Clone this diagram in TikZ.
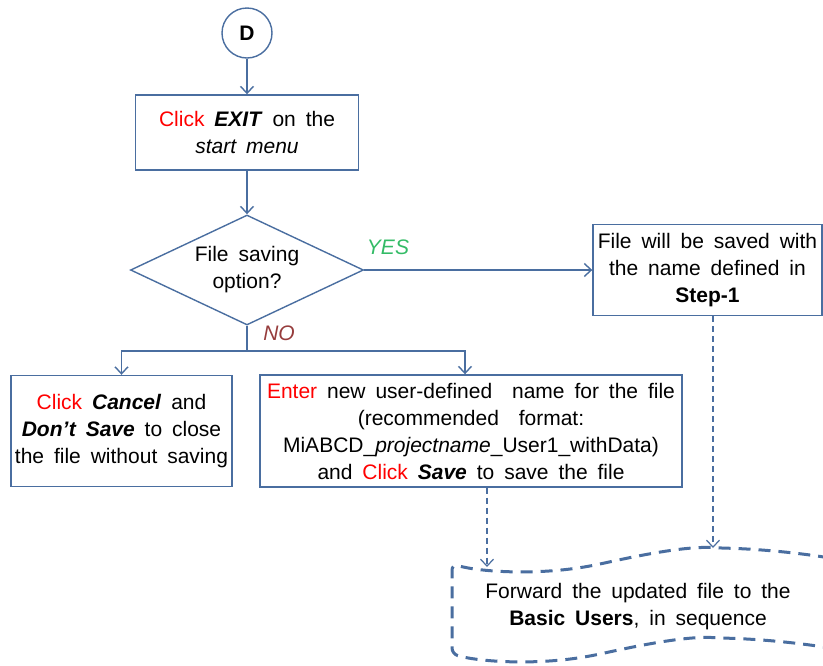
\documentclass[tikz,border=0pt]{standalone}
\usepackage{fontspec}
\setmainfont{Liberation Sans}[WordSpace=1.7]
\usetikzlibrary{shapes.geometric,arrows.meta}
\definecolor{edge}{RGB}{74,110,160}
\definecolor{clickred}{RGB}{255,0,0}
\definecolor{yesgreen}{RGB}{51,187,102}
\definecolor{nobrown}{RGB}{150,60,60}
\newcommand{\clk}[1]{\textcolor{clickred}{#1}}

\begin{document}
\begin{tikzpicture}[x=1pt,y=-1pt,
  every node/.style={font=\fontsize{21}{27}\selectfont, align=center},
  box/.style={draw=edge, line width=1.4pt, rectangle, inner sep=0pt},
  arr/.style={draw=edge, line width=1.4pt, -{Straight Barb[length=7pt,width=13pt]}},
  link/.style={draw=edge, line width=1.4pt},
  darr/.style={draw=edge, line width=1.2pt, dash pattern=on 6pt off 4pt,
               -{Straight Barb[length=7pt,width=13pt]}},
  tapeline/.style={draw=edge, line width=3pt, dash pattern=on 12pt off 8pt,
                   rounded corners=6pt}]

  \clip (0,0) rectangle (823,665);

  % start connector
  \node[circle, draw=edge, line width=1.4pt, minimum size=50pt, inner sep=0pt]
    (D) at (247,33) {\textbf{D}};

  % process boxes
  \node[box, minimum width=223pt, minimum height=75pt] (exit) at (247,132.5)
    {\clk{Click} \textbf{\textit{EXIT}} on the\\\textit{start menu}};

  \node[diamond, draw=edge, line width=1.4pt, minimum width=233pt,
        minimum height=110pt, aspect=2.1, inner sep=0pt] (dec) at (247,270)
    {File saving\\option?};

  \node[box, minimum width=229pt, minimum height=91pt] (saved) at (707.5,270)
    {File will be saved with\\the name defined in\\\textbf{Step-1}};

  \node[box, minimum width=221pt, minimum height=111pt] (cancel) at (121.5,431)
    {\clk{Click} \textbf{\textit{Cancel}} and\\\textbf{\textit{Don’t Save}} to close\\the file without saving};

  \node[box, minimum width=422pt, minimum height=112pt] (enter) at (471,431)
    {\clk{Enter} new user-defined\ \ name for the file\\(recommended\ \ format:\\MiABCD\_\textit{projectname}\_User1\_withData)\\and \clk{Click} \textbf{\textit{Save}} to save the file};

  % branch labels
  \node[text=yesgreen] (yes) at (388,247) {\textit{YES}};
  \node[text=nobrown] (no) at (279,333) {\textit{NO}};

  % wavy tape outline and its text
  \node (fwd) at (638,607) {Forward the updated file to the\\\textbf{Basic Users}, in sequence};
  \draw[tapeline] (830,558) .. controls (800,553) and (760,549) .. (720,548)
    .. controls (690,546) and (650,553) .. (600,564)
    .. controls (540,576) and (480,572) .. (452,564)
    -- (452,654)
    .. controls (480,662) and (540,666) .. (600,654)
    .. controls (650,643) and (690,636) .. (720,638)
    .. controls (760,639) and (800,643) .. (830,648);
  \coordinate (t1) at (487,567);
  \coordinate (t2) at (713,548);
  \coordinate (fork) at (247,351);

  % connectors
  \draw[arr] (D) -- (exit);
  \draw[arr] (exit) -- (dec);
  \draw[arr] (dec.east) -- (saved.west);
  \draw[link] (dec.south) -- (fork);
  \draw[arr] (fork) -| (cancel.north);
  \draw[arr] (fork) -| ([xshift=-6pt]enter.north);
  \draw[darr] (enter.south -| t1) -- (t1);
  \draw[darr] (saved.south -| t2) -- (t2);
\end{tikzpicture}
\end{document}
